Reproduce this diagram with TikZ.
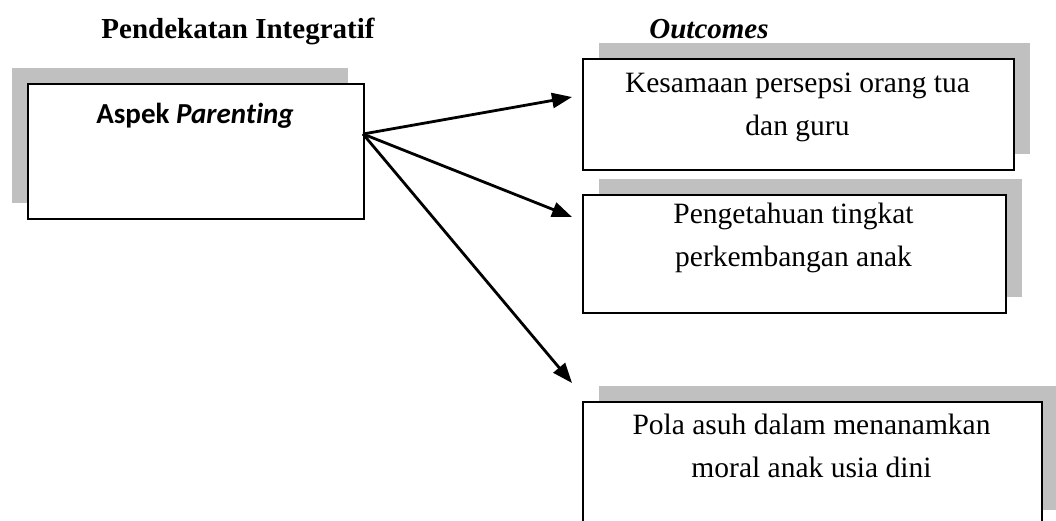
\documentclass[tikz,border=0pt]{standalone}
\usepackage{fontspec}
\setmainfont{Liberation Serif}
\newfontfamily\calibrifont[Ligatures=NoCommon]{Carlito}
\usetikzlibrary{arrows.meta,shadows}
\definecolor{shade}{RGB}{192,192,192}

\begin{document}
\begin{tikzpicture}[x=1pt,y=-1pt,
  box/.style={draw=black, line width=1.9pt, fill=white, inner sep=0pt,
    anchor=north west},
  shadowright/.style={general shadow={fill=shade, shadow xshift=16pt, shadow yshift=16pt}},
  shadowleft/.style={general shadow={fill=shade, shadow xshift=-16pt, shadow yshift=16pt}},
  boxtext/.style={font=\fontsize{29.5}{43}\selectfont, align=center, inner sep=0pt, anchor=base},
  heading/.style={inner sep=0pt, anchor=base, font=\fontsize{29}{32}\selectfont\bfseries},
  conn/.style={line width=2.8pt, -{Triangle[length=20pt,width=15pt]}}
]
\clip (0,0) rectangle (1056,520);

% column headings
\node[heading] (h1) at (238,38) {Pendekatan Integratif};
\node[heading] (h2) at (709,38) {\itshape Outcomes};

% boxes
\node[box, shadowleft, minimum width=336pt, minimum height=135pt] (src) at (27,83) {};
\node[box, shadowright, minimum width=431pt, minimum height=111pt] (o1) at (582,58) {};
\node[box, shadowright, minimum width=423pt, minimum height=118pt] (o2) at (582,194) {};
\node[box, shadowright, minimum width=459pt, minimum height=124pt] (o3) at (582,401) {};

% box texts (a multi-line node sits on the baseline of its last line)
\node[inner sep=0pt, anchor=base] (srctext) at (195,123) {\calibrifont\fontsize{29}{32}\selectfont\bfseries Aspek \textit{Parenting}};
\node[boxtext] (o1text) at (797.5,135) {Kesamaan persepsi orang tua\\dan guru};
\node[boxtext] (o2text) at (793.5,266) {Pengetahuan tingkat\\perkembangan anak};
\node[boxtext] (o3text) at (811.5,477) {Pola asuh dalam menanamkan\\moral anak usia dini};

% connectors
\coordinate (fork) at (363,134);
\coordinate (tip1) at (572,97);
\coordinate (tip2) at (572,217);
\coordinate (tip3) at (572,383);
\draw[conn] (fork) -- (tip1);
\draw[conn] (fork) -- (tip2);
\draw[conn] (fork) -- (tip3);
\end{tikzpicture}
\end{document}
